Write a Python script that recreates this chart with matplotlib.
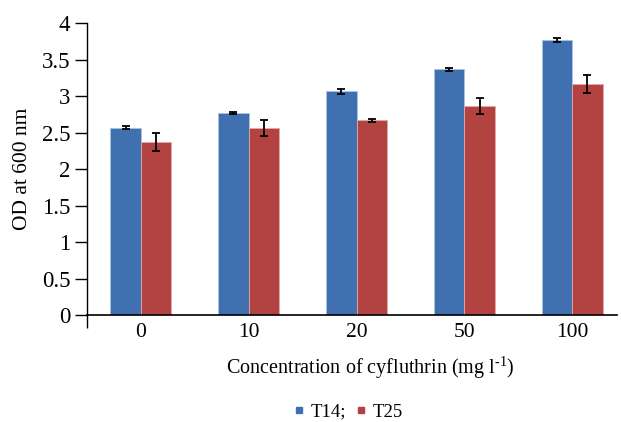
import matplotlib
matplotlib.use("Agg")
import matplotlib.pyplot as plt
import numpy as np
from matplotlib.lines import Line2D

categories = ["0", "10", "20", "50", "100"]
t14 = [2.57, 2.77, 3.07, 3.37, 3.77]
t14_err = [0.02, 0.02, 0.035, 0.02, 0.025]
t25 = [2.37, 2.57, 2.67, 2.87, 3.17]
t25_err = [0.12, 0.11, 0.02, 0.11, 0.12]
yticks = [0, 0.5, 1, 1.5, 2, 2.5, 3, 3.5, 4]
ytick_labels = ["0", "0.5", "1", "1.5", "2", "2.5", "3", "3.5", "4"]
series_names = ["T14;", "T25"]

blue = "#4170B0"
red = "#B24341"

plt.rcParams["font.family"] = ["Liberation Serif", "DejaVu Serif"]
plt.rcParams["mathtext.fontset"] = "custom"
plt.rcParams["mathtext.rm"] = "Liberation Serif"

W, H = 621, 422
fig = plt.figure(figsize=(W / 100, H / 100), dpi=100)
left, right, bottom, top = 87, 617, 315, 23.3
ax = fig.add_axes([left / W, 1 - bottom / H, (right - left) / W, (bottom - top) / H])

x = np.arange(len(categories))
bw = 0.283
ekw = dict(elinewidth=1.3, capthick=1.3, ecolor="black")
ax.bar(x - bw / 2, t14, bw, color=blue, edgecolor="#a9c3e6", linewidth=0.6,
       yerr=t14_err, capsize=3, error_kw=ekw, zorder=2)
ax.bar(x + bw / 2, t25, bw, color=red, edgecolor="#e3a9a8", linewidth=0.6,
       yerr=t25_err, capsize=3, error_kw=ekw, zorder=2)

ax.set_ylim(0, 4)
ax.set_xlim(-0.5, -0.5 + (right - left) / 107.8)
ax.set_yticks(yticks)
ax.set_yticklabels(ytick_labels, fontsize=16.5)
ax.set_xticks(x)
ax.set_xticklabels(categories, fontsize=15.5)
ax.tick_params(axis="x", length=0, pad=6)
ax.set_xticks([-0.5], minor=True)
ax.tick_params(axis="x", which="minor", length=9, width=1, direction="out")
ax.tick_params(axis="y", length=9, width=1, direction="out", pad=3)
for s in ["top", "right"]:
    ax.spines[s].set_visible(False)
ax.spines["left"].set_linewidth(1)
ax.spines["bottom"].set_linewidth(1.2)

ax.set_ylabel("OD at 600 nm", fontsize=15.5, labelpad=7)
fig.text(370 / W, 1 - 368 / H, r"Concentration of cyfluthrin (mg l$^{\text{-1}}$)",
         fontsize=14.5, ha="center", va="center")

handles = [Line2D([], [], marker="s", linestyle="none", color=blue, markersize=5),
           Line2D([], [], marker="s", linestyle="none", color=red, markersize=5)]
fig.legend(handles, series_names, loc="center", bbox_to_anchor=(348 / W, 1 - 412 / H),
           ncol=2, frameon=False, fontsize=13.5, handletextpad=0.3, columnspacing=0.5,
           handlelength=0.6, borderpad=0)

fig.savefig("out.png", dpi=100)
